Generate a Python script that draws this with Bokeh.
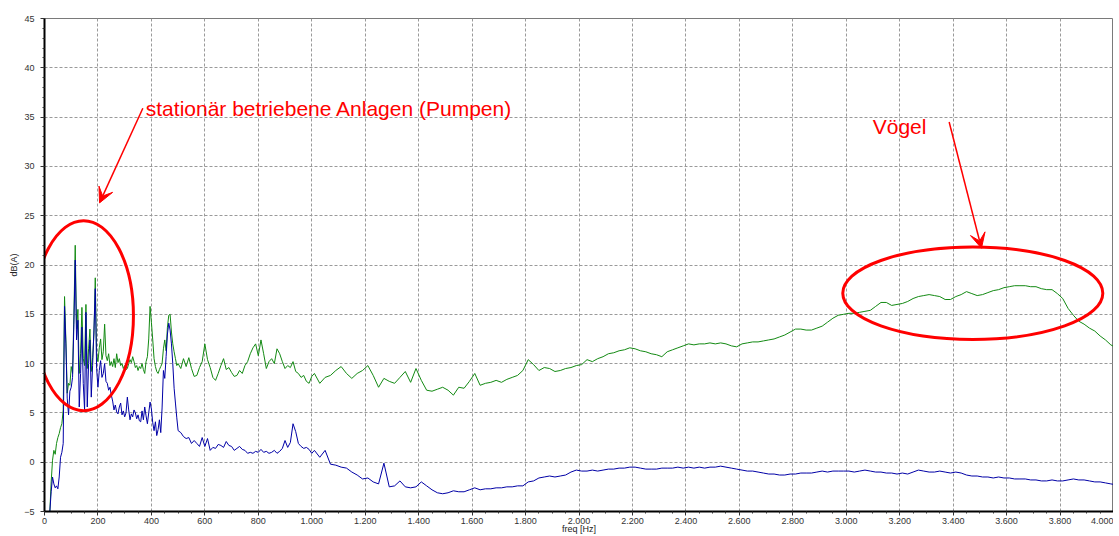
from bokeh.plotting import figure
from bokeh.models import (SingleIntervalTicker, CustomJSTickFormatter, Label, Arrow,
                          VeeHead, Range1d)
from bokeh.embed import file_html
from bokeh.resources import INLINE

# ---------------- data ----------------
# frequency bins [Hz]
freq_a = list(range(20, 505, 5))      # 20 .. 500
freq_b = list(range(510, 1005, 10))   # 510 .. 1000
freq_c = list(range(1010, 4011, 20))  # 1010 .. 4010

green_a = [-5.0, -2.0, 0.2, 1.2, 0.8, 1.9, 2.5, 2.9, 3.5, 3.9,
           5.3, 16.8, 12.4, 7.0, 8.0, 7.8, 9.7, 9.0, 15.0, 22.0,
           13.5, 15.5, 9.0, 11.0, 15.7, 10.5, 9.8, 16.0, 9.5, 11.5,
           13.5, 9.2, 10.6, 13.0, 18.7, 11.0, 10.2, 11.6, 12.5, 10.4,
           11.2, 14.0, 10.8, 10.3, 11.0, 9.8, 10.2, 9.7, 10.5, 9.6,
           11.0, 10.1, 10.5, 9.8, 10.0, 9.5, 9.8, 9.4, 9.5, 10.0,
           10.4, 10.1, 10.7, 10.2, 9.6, 9.8, 9.3, 9.7, 9.5, 10.0,
           9.4, 9.0, 10.2, 10.7, 12.5, 15.8, 14.2, 12.4, 10.5, 9.7,
           9.2, 9.0, 9.4, 9.7, 10.0, 11.5, 12.4, 11.3, 13.7, 14.9,
           15.0, 13.2, 12.0, 11.2, 10.5, 9.8, 10.0]
green_b = [9.5, 10.5, 9.7, 10.6, 9.5, 8.7, 8.8, 9.6, 10.2, 12.0,
           10.4, 9.6, 8.6, 8.3, 9.0, 9.8, 10.5, 9.4, 9.6, 9.1,
           8.7, 8.8, 9.3, 9.0, 9.8, 10.2, 11.0, 11.6, 12.0, 10.8,
           12.4, 11.0, 9.5, 10.2, 10.5, 10.0, 11.5, 11.0, 10.2, 9.5,
           9.8, 9.6, 10.2, 9.2, 9.0, 8.6, 8.8, 8.2, 8.0, 8.7]
green_c = [9.0, 8.0, 8.6, 8.8, 9.3, 9.7, 9.0, 8.5, 9.0, 9.3,
           9.8, 8.8, 7.6, 8.5, 8.2, 8.0, 8.6, 9.2, 8.1, 9.5,
           8.3, 7.3, 7.2, 7.4, 7.6, 7.3, 6.8, 7.6, 7.5, 8.2,
           9.0, 7.8, 8.0, 8.1, 8.3, 8.1, 8.4, 8.6, 8.8, 9.3,
           10.4, 9.9, 9.3, 9.6, 9.5, 9.2, 9.3, 9.5, 9.6, 9.8,
           9.9, 10.4, 10.2, 10.5, 10.7, 11.0, 11.1, 11.3, 11.4, 11.6,
           11.5, 11.3, 11.2, 11.0, 10.9, 10.7, 11.2, 11.4, 11.6, 11.8,
           12.0, 11.9, 12.0, 12.0, 12.1, 12.0, 12.1, 12.0, 11.8, 11.7,
           12.0, 12.1, 12.2, 12.2, 12.3, 12.4, 12.5, 12.7, 12.9, 13.2,
           13.5, 13.5, 13.4, 13.4, 13.6, 13.8, 14.2, 14.6, 14.9, 15.0,
           15.1, 15.1, 15.2, 15.3, 15.4, 15.8, 16.2, 16.2, 15.9, 16.0,
           16.1, 16.3, 16.6, 16.8, 16.9, 17.0, 16.9, 16.8, 16.5, 16.5,
           16.8, 17.0, 17.3, 17.1, 16.9, 17.0, 17.2, 17.4, 17.5, 17.7,
           17.8, 17.9, 17.9, 17.9, 17.8, 17.8, 17.6, 17.5, 17.5, 17.1,
           16.6, 15.6, 14.9, 14.3, 14.0, 13.6, 13.3, 12.8, 12.4, 11.9,
           11.6]

blue_a = [-5.0, -3.0, -1.5, -2.2, -2.6, -2.4, -2.7, -1.5, 0.5, 1.0,
          1.9, 15.8, 12.0, 6.5, 4.8, 7.2, 7.6, 8.6, 14.0, 20.5,
          12.4, 14.4, 5.6, 9.0, 13.7, 8.0, 5.3, 15.2, 5.6, 10.0,
          12.4, 6.6, 9.8, 13.4, 17.6, 9.5, 7.6, 9.3, 10.3, 8.6,
          9.0, 10.0, 8.2, 8.0, 7.3, 7.6, 6.8, 6.2, 5.3, 5.8,
          5.1, 4.9, 5.6, 6.0, 4.8, 5.2, 4.6, 5.0, 6.6, 5.3,
          4.3, 4.9, 4.6, 5.3, 5.0, 4.4, 4.8, 4.2, 4.1, 5.2,
          4.3, 5.6, 4.7, 3.9, 5.0, 6.1, 5.4, 4.0, 3.2, 4.1,
          2.7, 3.3, 4.3, 3.0, 5.5, 9.3, 8.5, 10.7, 13.0, 14.1,
          13.4, 12.0, 10.0, 7.5, 6.0, 4.5, 3.2]
blue_b = [3.0, 2.6, 2.4, 2.5, 1.9, 2.2, 1.9, 1.6, 2.5, 1.6,
          2.4, 1.2, 1.5, 1.4, 1.8, 1.7, 1.5, 2.1, 1.7, 1.6,
          1.2, 1.4, 1.6, 1.3, 1.2, 0.9, 1.0, 0.9, 1.1, 1.0,
          1.3, 1.0, 1.1, 0.9, 1.0, 1.2, 0.9, 1.1, 1.4, 2.2,
          1.5, 2.0, 3.9, 3.1, 1.9, 1.6, 1.4, 1.5, 1.3, 0.9]
blue_c = [1.2, 0.5, 1.2, -0.2, -0.3, -0.5, -0.6, -1.0, -1.3, -1.7,
          -1.6, -2.0, -2.2, -0.1, -2.5, -2.4, -1.9, -2.5, -2.6, -2.5,
          -2.0, -2.4, -2.8, -3.1, -3.2, -3.1, -2.9, -3.0, -3.0, -2.8,
          -2.6, -2.8, -2.7, -2.7, -2.6, -2.6, -2.5, -2.5, -2.4, -2.4,
          -2.0, -1.9, -1.6, -1.5, -1.4, -1.5, -1.4, -1.3, -1.0, -0.8,
          -0.9, -0.9, -0.8, -0.9, -0.8, -0.7, -0.7, -0.6, -0.6, -0.5,
          -0.5, -0.6, -0.7, -0.7, -0.7, -0.6, -0.6, -0.6, -0.5, -0.6,
          -0.5, -0.6, -0.5, -0.6, -0.5, -0.5, -0.4, -0.5, -0.6, -0.7,
          -0.8, -0.9, -0.9, -1.0, -1.1, -1.2, -1.2, -1.3, -1.3, -1.2,
          -1.2, -1.1, -1.1, -1.1, -1.0, -0.9, -1.0, -0.9, -0.9, -0.9,
          -0.9, -1.0, -0.9, -0.8, -0.9, -1.0, -1.0, -1.1, -1.1, -1.2,
          -1.1, -1.2, -1.0, -0.8, -0.9, -1.0, -1.0, -0.9, -1.0, -1.1,
          -1.0, -1.1, -1.3, -1.4, -1.4, -1.5, -1.5, -1.6, -1.5, -1.6,
          -1.6, -1.7, -1.7, -1.7, -1.8, -1.8, -1.9, -1.9, -1.8, -1.9,
          -1.9, -1.8, -1.7, -1.8, -1.8, -1.9, -2.0, -2.0, -2.1, -2.2,
          -2.3]

freq = freq_a + freq_b + freq_c
green = green_a + green_b + green_c
blue = blue_a + blue_b + blue_c
assert len(freq) == len(green) == len(blue), (len(freq), len(green), len(blue))

# annotation texts
label_pumps = "stationär betriebene Anlagen (Pumpen)"
label_birds = "Vögel"
x_label = "freq [Hz]"
y_label = "dB(A)"

# ---------------- figure ----------------
p = figure(width=1113, height=536, x_range=Range1d(0, 4000), y_range=Range1d(-5, 45),
           output_backend="svg", toolbar_location=None,
           min_border_left=44, min_border_right=0, min_border_top=18, min_border_bottom=25)
p.background_fill_color = "white"
p.border_fill_color = "white"
p.outline_line_color = "#7a7a7a"
p.outline_line_width = 1

p.xaxis.ticker = SingleIntervalTicker(interval=200, num_minor_ticks=4)
p.yaxis.ticker = SingleIntervalTicker(interval=5, num_minor_ticks=5)
p.xaxis.formatter = CustomJSTickFormatter(code="""
const s = Math.round(tick).toString();
if (s.length > 3) { return s.slice(0, s.length - 3) + "." + s.slice(s.length - 3); }
return s;
""")

for ax in (p.xaxis, p.yaxis):
    ax.axis_line_color = "black"
    ax.axis_line_width = 2
    ax.major_tick_in = 0
    ax.major_tick_out = 4
    ax.minor_tick_in = 0
    ax.minor_tick_out = 2
    ax.major_tick_line_color = "#333333"
    ax.minor_tick_line_color = "#333333"
    ax.major_label_text_font = "Liberation Sans"
    ax.major_label_text_font_size = "9px"
    ax.major_label_text_color = "#333333"
    ax.axis_label_text_font = "Liberation Sans"
    ax.axis_label_text_font_size = "9px"
    ax.axis_label_text_font_style = "normal"
    ax.axis_label_text_color = "#222222"
p.xaxis.major_label_standoff = 2
p.yaxis.major_label_standoff = 6
p.yaxis.axis_label = y_label
p.yaxis.axis_label_standoff = 2
p.xaxis.axis_label = x_label
p.xaxis.axis_label_standoff = -3

for g in (p.xgrid, p.ygrid):
    g.grid_line_color = "#9a9a9a"
    g.grid_line_dash = "3 2"
    g.grid_line_width = 1

p.line(freq, green, line_color="#138a13", line_width=1)
p.line(freq, blue, line_color="#0000a6", line_width=1)

# annotation ellipses (centre, width, height in data units)
ell_x = [146.3, 3473.5]
ell_y = [14.86, 17.14]
ell_w = [373.0, 973.0]
ell_h = [19.27, 9.39]
p.ellipse(x=ell_x, y=ell_y, width=ell_w, height=ell_h, fill_alpha=0,
          line_color="#ff0000", line_width=3)

p.add_layout(Label(x=379, y=35.9, text=label_pumps, text_font="Liberation Sans",
                   text_font_size="21px", text_color="#ff0000", text_baseline="alphabetic"))
p.add_layout(Label(x=3099, y=34.0, text=label_birds, text_font="Liberation Sans",
                   text_font_size="21px", text_color="#ff0000", text_baseline="alphabetic"))
p.add_layout(Arrow(x_start=368, y_start=35.9, x_end=206, y_end=26.3,
                   line_color="#ff0000", line_width=1.5,
                   end=VeeHead(size=15, fill_color="#ff0000", line_color="#ff0000")))
p.add_layout(Arrow(x_start=3385, y_start=34.5, x_end=3506, y_end=21.7,
                   line_color="#ff0000", line_width=1.5,
                   end=VeeHead(size=15, fill_color="#ff0000", line_color="#ff0000")))

open("out.html", "w").write(file_html(p, INLINE))
